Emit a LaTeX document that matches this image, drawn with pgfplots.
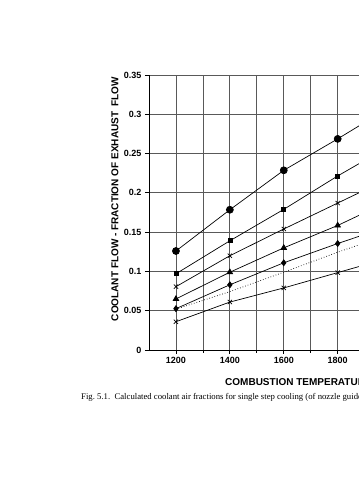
\documentclass[border=0pt]{standalone}
\usepackage{fontspec}
\setmainfont{Liberation Serif}
\newfontfamily\arial{Liberation Sans}
\usepackage{pgfplots}
\pgfplotsset{compat=1.18}
\begin{document}
\begin{tikzpicture}[x=1pt,y=1pt]
\useasboundingbox (0,0) rectangle (359,480);
\clip (0,0) rectangle (359,480);
\begin{axis}[
  at={(149pt,130pt)}, anchor=south west,
  scale only axis, width=296.5pt, height=275pt,
  xmin=1100, xmax=2200, ymin=0, ymax=0.35,
  axis lines=left, axis line style={-, black, line width=0.9pt},
  xtick={1200,1400,1600,1800,2000,2200},
  minor xtick={1300,1500,1700,1900,2100},
  ytick={0,0.05,0.1,0.15,0.2,0.25,0.3,0.35},
  grid=both,
  major grid style={black!65, line width=0.8pt},
  minor grid style={black!65, line width=0.8pt},
  tick align=outside, major tick length=4pt, minor tick length=3pt,
  tick style={black, line width=0.8pt},
  /pgf/number format/assume math mode=true,
  /pgf/number format/1000 sep={},
  yticklabel style={/pgf/number format/fixed, /pgf/number format/precision=2},
  tick label style={font=\arial\bfseries\fontsize{9}{10}\selectfont},
]
\addplot[black, line width=0.7pt, mark=*, mark size=3.5pt] coordinates {(1200,0.126)(1400,0.1785)(1600,0.2287)(1800,0.2687)(2000,0.3105)};
\addplot[black, line width=0.7pt, mark=square*, mark size=2pt] coordinates {(1200,0.097)(1400,0.139)(1600,0.179)(1800,0.2215)(2000,0.261)};
\addplot[black, line width=0.7pt, mark=x, mark size=3pt] coordinates {(1200,0.0806)(1400,0.12)(1600,0.154)(1800,0.187)(2000,0.22)};
\addplot[black, line width=0.7pt, mark=triangle*, mark size=3.2pt] coordinates {(1200,0.065)(1400,0.099)(1600,0.13)(1800,0.1585)(2000,0.191)};
\addplot[black, line width=0.7pt, mark=diamond*, mark size=3pt] coordinates {(1200,0.0526)(1400,0.083)(1600,0.111)(1800,0.1355)(2000,0.1586)};
\addplot[black, line width=0.7pt, dotted, no marks] coordinates {(1200,0.052)(1400,0.0743)(1600,0.099)(1800,0.1245)(2000,0.148)};
\addplot[black, line width=0.7pt, mark=x, mark size=3pt] coordinates {(1200,0.036)(1400,0.061)(1600,0.079)(1800,0.0985)(2000,0.118)};
\end{axis}
\node[rotate=90, font=\arial\bfseries\fontsize{10}{12}\selectfont] at (115,281) {COOLANT FLOW - FRACTION OF EXHAUST\ \ FLOW};
\node[anchor=west, inner sep=0pt, font=\arial\bfseries\fontsize{10}{12}\selectfont] at (225,98) {COMBUSTION TEMPERATURE};
\node[anchor=west, inner sep=0pt, font=\fontsize{8.7}{10}\selectfont] at (81,83) {Fig.~5.1.\ \ Calculated coolant air fractions for single step cooling (of nozzle guide};
\end{tikzpicture}
\end{document}
